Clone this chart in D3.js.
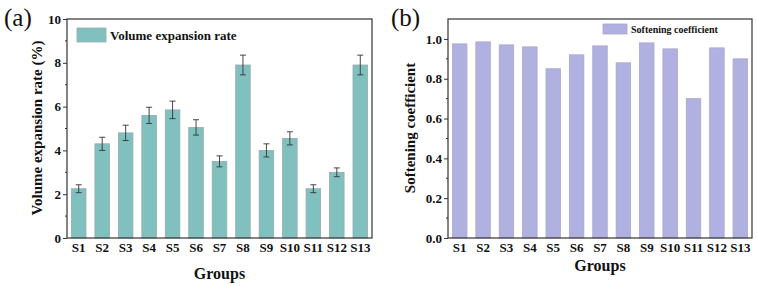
<!DOCTYPE html>
<html>
<head>
<meta charset="utf-8">
<script src="https://cdn.jsdelivr.net/npm/d3@7"></script>
<style>
  body { margin: 0; background: #fff; }
</style>
</head>
<body>
<svg width="757" height="286"></svg>
<script>
// groups on the x axis (shared by both panels)
const groups = ['S1', 'S2', 'S3', 'S4', 'S5', 'S6', 'S7', 'S8', 'S9', 'S10', 'S11', 'S12', 'S13'];

// panel (a): volume expansion rate (%) with error bars
const expansion = [2.25, 4.3, 4.8, 5.6, 5.85, 5.05, 3.5, 7.9, 4.0, 4.55, 2.25, 3.0, 7.9];
const expansionErr = [0.18, 0.3, 0.35, 0.37, 0.4, 0.35, 0.25, 0.45, 0.3, 0.3, 0.18, 0.2, 0.45];
const expansionTicks = [0, 2, 4, 6, 8, 10];

// panel (b): softening coefficient
const softening = [0.975, 0.985, 0.97, 0.96, 0.85, 0.92, 0.965, 0.88, 0.98, 0.95, 0.70, 0.955, 0.90];
const softeningTicks = [0, 0.2, 0.4, 0.6, 0.8, 1.0];

const svg = d3.select('svg');
const FONT = '"Liberation Serif", "Times New Roman", serif';

function panel(opts) {
  const g = svg.append('g').attr('font-family', FONT);
  const x = d3.scaleBand().domain(groups).range([opts.left, opts.right]).paddingInner(0.38).paddingOuter(0.19);
  const y = d3.scaleLinear().domain(opts.domain).range([238, 19]);

  // bars
  g.selectAll('rect.bar')
    .data(opts.values)
    .enter()
    .append('rect')
    .attr('class', 'bar')
    .attr('x', (d, i) => x(groups[i]))
    .attr('y', (d) => y(d))
    .attr('width', x.bandwidth())
    .attr('height', (d) => y(0) - y(d))
    .attr('fill', opts.color)
    .attr('stroke', opts.stroke)
    .attr('stroke-width', 0.8);

  // error bars
  if (opts.err) {
    const eb = g.selectAll('g.err').data(opts.values).enter().append('g')
      .attr('stroke', '#333').attr('stroke-width', 0.9);
    eb.append('line')
      .attr('x1', (d, i) => x(groups[i]) + x.bandwidth() / 2)
      .attr('x2', (d, i) => x(groups[i]) + x.bandwidth() / 2)
      .attr('y1', (d, i) => y(d - opts.err[i]))
      .attr('y2', (d, i) => y(d + opts.err[i]));
    [-1, 1].forEach((s) => {
      eb.append('line')
        .attr('x1', (d, i) => x(groups[i]) + x.bandwidth() / 2 - 3)
        .attr('x2', (d, i) => x(groups[i]) + x.bandwidth() / 2 + 3)
        .attr('y1', (d, i) => y(d + s * opts.err[i]))
        .attr('y2', (d, i) => y(d + s * opts.err[i]));
    });
  }

  // y axis with minor ticks
  const yAxis = d3.axisLeft(y).tickValues(opts.ticks).tickSize(4).tickFormat(opts.fmt);
  const ya = g.append('g').attr('transform', `translate(${opts.left},0)`).call(yAxis);
  ya.attr('font-family', FONT);
  ya.select('.domain').remove();
  ya.selectAll('text').attr('font-size', 13).attr('font-weight', 'bold').attr('fill', '#111').attr('x', -6);
  ya.selectAll('line').attr('stroke', '#333');
  const minor = opts.ticks.slice(0, -1).map((t, i) => (t + opts.ticks[i + 1]) / 2);
  g.selectAll('line.minor').data(minor).enter().append('line')
    .attr('x1', opts.left - 2).attr('x2', opts.left)
    .attr('y1', (d) => y(d)).attr('y2', (d) => y(d))
    .attr('stroke', '#333');

  // x axis labels
  const xAxis = d3.axisBottom(x).tickSize(0).tickPadding(5);
  const xa = g.append('g').attr('transform', 'translate(0,238)').call(xAxis);
  xa.attr('font-family', FONT);
  xa.select('.domain').remove();
  xa.selectAll('text').attr('font-size', 13).attr('font-weight', 'bold').attr('fill', '#111');

  // frame
  g.append('rect')
    .attr('x', opts.left).attr('y', 19)
    .attr('width', opts.right - opts.left).attr('height', 219)
    .attr('fill', 'none').attr('stroke', '#333').attr('stroke-width', 1.2);

  // legend
  g.append('rect')
    .attr('x', opts.legend.x).attr('y', opts.legend.y)
    .attr('width', opts.legend.w).attr('height', opts.legend.h)
    .attr('fill', opts.color).attr('stroke', opts.stroke).attr('stroke-width', 0.8);
  g.append('text')
    .attr('x', opts.legend.x + opts.legend.w + 4)
    .attr('y', opts.legend.y + opts.legend.h / 2)
    .attr('dy', '0.35em')
    .attr('font-size', opts.legend.size).attr('font-weight', 'bold').attr('fill', '#111')
    .text(opts.legend.label);

  // axis titles
  g.append('text')
    .attr('transform', `translate(${opts.yTitleX},128) rotate(-90)`)
    .attr('text-anchor', 'middle')
    .attr('font-size', 15).attr('font-weight', 'bold').attr('fill', '#111')
    .text(opts.yTitle);
  g.append('text')
    .attr('x', (opts.left + opts.right) / 2).attr('y', opts.xTitleY)
    .attr('text-anchor', 'middle')
    .attr('font-size', 16).attr('font-weight', 'bold').attr('fill', '#111')
    .text('Groups');

  // panel label
  g.append('text')
    .attr('x', opts.tagX).attr('y', 26)
    .attr('font-size', 25).attr('fill', '#111')
    .text(opts.tag);
}

panel({
  left: 67, right: 372, domain: [0, 10], ticks: expansionTicks, fmt: d3.format('d'),
  values: expansion, err: expansionErr, color: '#80c1c0', stroke: '#9aa',
  legend: { x: 77, y: 28, w: 29, h: 14, size: 13, label: 'Volume expansion rate' },
  yTitle: 'Volume expansion rate (%)', yTitleX: 42, xTitleY: 279, tag: '(a)', tagX: 4
});

panel({
  left: 448, right: 752, domain: [0, 1.1], ticks: softeningTicks, fmt: d3.format('.1f'),
  values: softening, err: null, color: '#b0b1e1', stroke: '#a8a8c8',
  legend: { x: 603, y: 24, w: 24, h: 10, size: 10, label: 'Softening coefficient' },
  yTitle: 'Softening coefficient', yTitleX: 415, xTitleY: 271, tag: '(b)', tagX: 391
});
</script>
</body>
</html>
